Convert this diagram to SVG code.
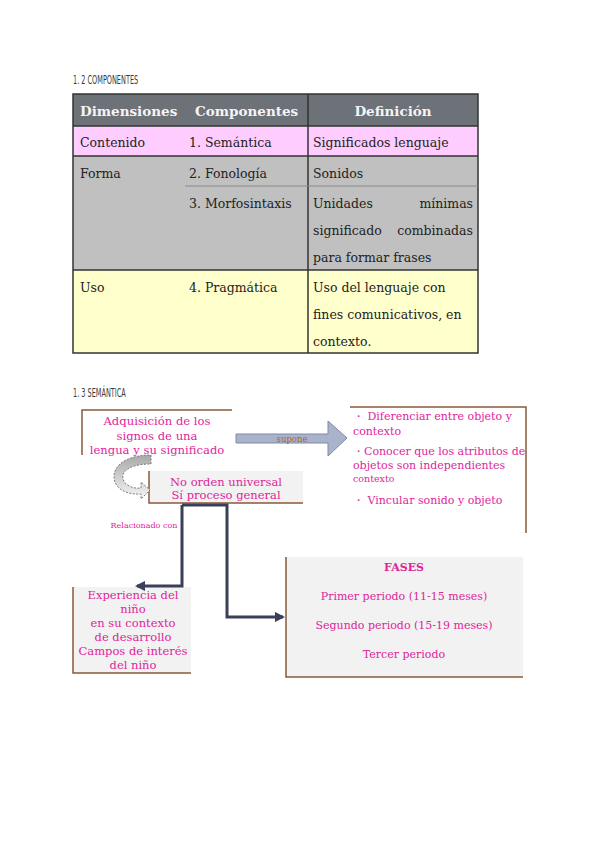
<svg xmlns="http://www.w3.org/2000/svg" width="600" height="848" viewBox="0 0 600 848">
<defs>
<style>
.h{font-family:"DejaVu Sans Condensed","Liberation Sans",sans-serif;font-size:13px;fill:#3a3a3a}
.t{font-family:"DejaVu Serif","Liberation Serif",serif;font-size:12.5px;fill:#222}
.th{font-family:"DejaVu Serif","Liberation Serif",serif;font-size:13.5px;font-weight:bold;fill:#f4f4f4}
.p{font-family:"DejaVu Serif","Liberation Serif",serif;font-size:11px;fill:#e0249b}
.c{text-anchor:middle}
.edge{fill:none;stroke:#8a5a3a;stroke-width:1.5}
.gbox{fill:#f2f2f2}
.conn{fill:none;stroke:#3a4058;stroke-width:3}
</style>
<marker id="ah" viewBox="0 0 10 10" refX="8" refY="5" markerWidth="3.5" markerHeight="3.5" orient="auto-start-reverse">
<path d="M0,0 L10,5 L0,10 z" fill="#3a4058"/>
</marker>
<linearGradient id="cg" x1="0" y1="0" x2="0" y2="1">
<stop offset="0" stop-color="#a8a8a8"/>
<stop offset="1" stop-color="#f6f6f6"/>
</linearGradient>
</defs>
<rect width="600" height="848" fill="#fff"/>

<text class="h" transform="translate(73,84) scale(0.56,1)">1. 2 COMPONENTES</text>

<g id="table">
<rect x="73" y="94" width="405" height="32" fill="#6d7178"/>
<rect x="73" y="126" width="405" height="30" fill="#ffccff"/>
<rect x="73" y="156" width="405" height="114" fill="#c0c0c0"/>
<rect x="73" y="270" width="405" height="83" fill="#ffffcc"/>
<g stroke="#333" stroke-width="1.5" fill="none">
<rect x="73" y="94" width="405" height="259"/>
<line x1="308" y1="94" x2="308" y2="353"/>
<line x1="73" y1="126" x2="478" y2="126"/>
<line x1="73" y1="156" x2="478" y2="156"/>
<line x1="73" y1="270" x2="478" y2="270"/>
</g>
<line x1="185" y1="186" x2="478" y2="186" stroke="#8a8a8a" stroke-width="1"/>
<text class="th" x="80" y="116">Dimensiones</text>
<text class="th" x="195" y="116">Componentes</text>
<text class="th c" x="393" y="116">Definición</text>
<text class="t" x="80" y="147">Contenido</text>
<text class="t" x="189" y="147">1. Semántica</text>
<text class="t" x="313" y="147">Significados lenguaje</text>
<text class="t" x="80" y="178">Forma</text>
<text class="t" x="189" y="178">2. Fonología</text>
<text class="t" x="313" y="178">Sonidos</text>
<text class="t" x="189" y="208">3. Morfosintaxis</text>
<text class="t" x="313" y="208">Unidades</text>
<text class="t" x="473" y="208" text-anchor="end">mínimas</text>
<text class="t" x="313" y="235">significado</text>
<text class="t" x="473" y="235" text-anchor="end">combinadas</text>
<text class="t" x="313" y="262">para formar frases</text>
<text class="t" x="80" y="292">Uso</text>
<text class="t" x="189" y="292">4. Pragmática</text>
<text class="t" x="313" y="292">Uso del lenguaje con</text>
<text class="t" x="313" y="319">fines comunicativos, en</text>
<text class="t" x="313" y="346">contexto.</text>
</g>

<text class="h" transform="translate(73,397) scale(0.56,1)">1. 3 SEMÁNTICA</text>

<g id="n-adquisicion">
<rect x="82" y="410" width="150" height="45" fill="#fff"/>
<path d="M82,455 L82,410 L232,410" class="edge"/>
<text class="p c" x="157" y="425" style="font-size:11.6px">Adquisición de los</text>
<text class="p c" x="157" y="440" style="font-size:11.6px">signos de una</text>
<text class="p c" x="157" y="454" style="font-size:11.6px">lengua y su significado</text>
</g>

<g id="n-orden">
<rect x="149" y="471" width="154" height="32" class="gbox"/>
<path d="M149,471 L149,503 L303,503" class="edge"/>
<text class="p c" x="226" y="486" style="font-size:11.5px">No orden universal</text>
<text class="p c" x="226" y="499" style="font-size:11.5px">Sí proceso general</text>
</g>

<g id="n-supone">
<path d="M350,407 L526,407 L526,533" class="edge"/>
<text class="p" x="353" y="420">・ Diferenciar entre objeto y</text>
<text class="p" x="353" y="435">contexto</text>
<text class="p" x="353" y="455">・Conocer que los atributos de</text>
<text class="p" x="353" y="469">objetos son independientes</text>
<text class="p" x="353" y="482" style="font-size:9.5px">contexto</text>
<text class="p" x="353" y="504">・ Vincular sonido y objeto</text>
</g>

<g id="n-experiencia">
<rect x="73" y="587" width="118" height="86" class="gbox"/>
<path d="M73,587 L73,673 L191,673" class="edge"/>
<text class="p c" x="133" y="599" style="font-size:11.5px">Experiencia del</text>
<text class="p c" x="133" y="613" style="font-size:11.5px">niño</text>
<text class="p c" x="133" y="627" style="font-size:11.5px">en su contexto</text>
<text class="p c" x="133" y="641" style="font-size:11.5px">de desarrollo</text>
<text class="p c" x="133" y="655" style="font-size:11.5px">Campos de interés</text>
<text class="p c" x="133" y="669" style="font-size:11.5px">del niño</text>
</g>

<g id="n-fases">
<rect x="286" y="557" width="237" height="120" class="gbox"/>
<path d="M286,557 L286,677 L523,677" class="edge"/>
<text class="p c" x="404" y="571" style="font-weight:bold">FASES</text>
<text class="p c" x="404" y="600">Primer periodo (11-15 meses)</text>
<text class="p c" x="404" y="629">Segundo periodo (15-19 meses)</text>
<text class="p c" x="404" y="658">Tercer periodo</text>
</g>

<g id="connectors">
<path d="M182,505 L182,586 L137,586" class="conn" marker-end="url(#ah)"/>
<path d="M182,505 L227,505 L227,617 L283,617" class="conn" marker-end="url(#ah)"/>
<text class="p" x="144" y="528" style="font-size:8px;text-anchor:middle">Relacionado con</text>
<g id="supone">
<path d="M236,434 L328,434 L328,421 L347,438 L328,456 L328,443 L236,443 z" fill="#a9b4cc" stroke="#7d8aa6" stroke-width="1"/>
<text x="292" y="442" text-anchor="middle" font-family="DejaVu Serif,serif" font-size="8.5" fill="#b5632e">supone</text>
</g>
<path id="curve" d="M151,455 L151,464 C132,464 121,470 123,479 C125,486 134,489 141,488 L141,482 L150,490 L141,499 L141,494 C126,495 114,488 114,477 C114,463 130,455 151,455 z" fill="url(#cg)" stroke="#7a7a7a" stroke-width="1" stroke-dasharray="2,1.5"/>
</g>
</svg>
